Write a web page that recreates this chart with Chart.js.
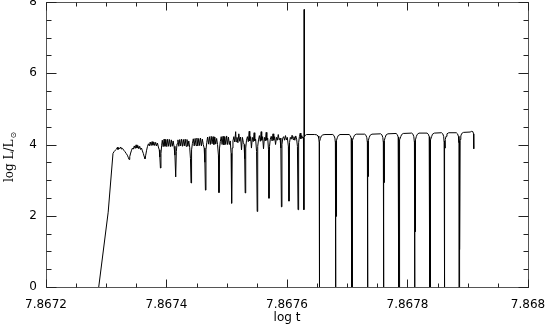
<!DOCTYPE html>
<html><head><meta charset="utf-8">
<script src="https://cdn.jsdelivr.net/npm/chart.js@4/dist/chart.umd.min.js"></script>
<style>html,body{margin:0;padding:0;background:#fff;}canvas{display:block;}</style>
</head><body>
<canvas id="c" width="545" height="327"></canvas>
<script>
const logT = [
7.8672875,7.8673032,7.8673112,7.867313,7.867315,7.867317,7.8673185,7.8673195,7.867321,7.8673225,
7.867324,7.8673255,7.867327,7.867329,7.867331,7.867333,7.867335,7.8673365,7.8673378,7.867339,
7.8673405,7.867342,7.8673435,7.867345,7.8673465,7.867348,7.8673495,7.867351,7.8673525,7.867354,
7.8673555,7.867357,7.8673585,7.86736,7.8673615,7.867363,7.8673643,7.8673655,7.867367,7.8673685,
7.86737,7.8673715,7.867373,7.8673745,7.867376,7.8673775,7.867379,7.8673805,7.867382,7.8673835,
7.867385,7.8673865,7.867388,7.867389,7.8673899,7.8673908,7.867392,7.867393,7.8673945,7.867396,
7.8673975,7.867399,7.8674005,7.867402,7.8674035,7.867405,7.8674065,7.867408,7.8674095,7.867411,
7.8674125,7.867414,7.8674153,7.8674163,7.8674175,7.867419,7.8674205,7.867422,7.8674235,7.867425,
7.8674265,7.867428,7.8674295,7.867431,7.8674325,7.867434,7.8674355,7.867437,7.8674385,7.8674398,
7.8674407,7.8674416,7.867443,7.8674445,7.867446,7.8674475,7.867449,7.8674505,7.867452,7.8674535,
7.867455,7.8674565,7.867458,7.8674595,7.867461,7.8674625,7.8674637,7.8674646,7.8674655,7.8674668,
7.8674682,7.8674697,7.8674712,7.8674727,7.8674742,7.8674757,7.8674772,7.8674787,7.8674802,7.8674817,
7.8674832,7.8674847,7.8674862,7.8674871,7.867488,7.8674893,7.8674908,7.8674923,7.8674938,7.8674953,
7.8674968,7.8674983,7.8674998,7.8675013,7.8675028,7.8675043,7.8675058,7.8675072,7.8675081,7.867509,
7.8675103,7.8675118,7.8675133,7.8675148,7.8675156,7.867517,7.8675185,7.86752,7.8675215,7.867523,
7.8675245,7.867526,7.8675275,7.8675288,7.8675298,7.8675306,7.8675315,7.8675328,7.8675343,7.8675358,
7.8675373,7.8675382,7.8675396,7.867541,7.8675425,7.867544,7.8675455,7.8675465,7.867548,7.8675495,
7.8675505,7.8675514,7.8675527,7.8675542,7.8675557,7.8675572,7.867558,7.8675595,7.867561,7.8675625,
7.867564,7.8675655,7.8675665,7.867568,7.8675693,7.8675701,7.867571,7.8675723,7.8675738,7.8675753,
7.8675768,7.867578,7.8675795,7.867581,7.8675825,7.867584,7.8675855,7.867587,7.8675885,7.8675898,
7.8675907,7.8675916,7.867593,7.8675945,7.867596,7.8675975,7.867599,7.8676005,7.8676023,7.8676033,
7.8676042,7.8676055,7.867607,7.8676085,7.86761,7.8676115,7.867613,7.8676145,7.867616,7.8676173,
7.8676183,7.8676193,7.8676206,7.867622,7.867623,7.8676245,7.867626,7.8676273,7.867628,7.8676284,
7.867629,7.8676305,7.8676325,7.867646,7.8676495,7.8676515,7.8676528,7.8676534,7.8676535,7.867654,
7.8676543,7.8676555,7.867657,7.8676595,7.867663,7.867676,7.867678,7.8676795,7.8676803,7.8676804,
7.8676809,7.8676812,7.8676817,7.867682,7.8676824,7.8676835,7.867685,7.867688,7.867703,7.867705,
7.8677065,7.8677073,7.8677074,7.8677079,7.8677082,7.8677085,7.8677088,7.8677092,7.8677105,7.867712,
7.867715,7.867729,7.867731,7.8677325,7.8677334,7.8677335,7.867734,7.8677343,7.8677346,7.8677349,
7.8677353,7.8677365,7.867738,7.867741,7.8677555,7.8677575,7.867759,7.8677599,7.86776,7.8677605,
7.8677608,7.8677611,7.8677614,7.8677618,7.867763,7.8677645,7.8677675,7.867781,7.867783,7.8677845,
7.8677853,7.8677854,7.8677859,7.8677862,7.8677866,7.8677871,7.8677875,7.8677888,7.8677903,7.867793,
7.867807,7.867809,7.8678105,7.8678115,7.8678116,7.8678121,7.8678124,7.8678127,7.867813,7.8678134,
7.8678146,7.867816,7.867819,7.8678325,7.8678345,7.867836,7.8678368,7.8678369,7.8678374,7.8678377,
7.867838,7.8678383,7.8678387,7.86784,7.8678415,7.8678445,7.8678565,7.8678585,7.86786,7.8678608,
7.8678609,7.8678614,7.8678617,7.867862,7.8678623,7.8678627,7.867864,7.8678655,7.8678685,7.867881,
7.867883,7.8678845,7.8678854,7.8678855,7.867886,7.8678863,7.8678866,7.8678869,7.8678873,7.8678885,
7.86789,7.867893,7.867904,7.8679065,7.8679085,7.8679096,7.86791
];
const logL = [
0,2.1,3.75,3.8,3.84,3.87,3.92,3.86,3.91,3.88,
3.93,3.87,3.89,3.84,3.8,3.75,3.7,3.64,3.58,3.66,
3.76,3.84,3.9,3.87,3.96,3.89,3.99,3.9,3.97,3.88,
3.95,3.86,3.9,3.82,3.75,3.66,3.6,3.7,3.84,3.95,
4.02,3.96,4.07,3.97,4.08,3.98,4.07,3.97,4.06,3.96,
4.04,3.93,3.85,3.65,3.34,3.75,3.98,4.12,3.94,4.15,
3.95,4.14,3.94,4.15,3.95,4.14,3.94,4.13,3.95,4.1,
3.95,3.7,3.09,3.8,4.02,4.13,3.95,4.14,3.96,4.15,
3.95,4.14,3.96,4.15,3.95,4.14,3.95,4.1,3.92,3.6,
2.92,3.85,4.03,4.16,3.96,4.17,3.97,4.18,3.96,4.17,
3.97,4.18,3.96,4.15,4.0,3.9,3.5,2.72,3.85,4.05,
4.21,4.01,4.22,4.0,4.23,4.02,4.22,4.0,4.21,4.01,
4.17,4.0,3.7,2.65,3.9,4.08,4.22,4.0,4.23,3.99,
4.22,4.0,4.24,4.0,4.21,4.0,4.1,3.75,2.35,3.9,
4.1,4.22,4.07,4.36,4.08,4.2,4.05,4.3,4.09,4.21,
3.85,4.2,4.06,4.0,3.6,2.64,3.9,4.12,4.22,4.08,
4.37,4.1,4.22,3.9,4.2,4.08,4.33,4.1,4.15,3.8,
2.12,3.95,4.13,4.25,4.09,4.36,4.12,4.22,3.88,4.2,
4.1,4.34,4.12,4.18,3.85,2.49,3.95,4.15,4.23,4.1,
4.3,4.12,4.22,4.0,4.2,4.12,4.28,4.13,4.18,3.9,
2.25,4.0,4.18,4.22,4.12,4.25,4.13,4.2,3.95,2.41,
4.05,4.2,4.15,4.26,4.14,4.22,4.12,4.24,4.15,3.95,
2.17,4.05,4.22,4.32,4.16,4.25,4.18,4.2,2.17,7.79,
4.22,4.26,4.28,4.28,4.27,4.24,4.17,4.05,0,0,
4.08,4.17,4.24,4.27,4.28,4.28,4.25,4.18,4.05,0,
0,4.08,4.1,1.98,4.12,4.19,4.25,4.28,4.28,4.25,
4.18,4.05,0,0,4.08,4.1,2.8,4.12,4.2,4.26,
4.29,4.29,4.26,4.19,4.05,0,0,4.08,4.1,3.1,
4.12,4.2,4.26,4.29,4.3,4.27,4.2,4.05,0,0,
4.08,4.1,2.93,4.12,4.2,4.27,4.3,4.31,4.28,4.21,
4.05,0,0,4.08,4.1,3.5,4.13,4.22,4.28,4.31,
4.32,4.29,4.22,4.05,0,0,4.08,4.1,1.55,4.13,
4.22,4.28,4.32,4.32,4.29,4.22,4.05,0,0,4.08,
4.1,0.85,4.13,4.22,4.29,4.32,4.33,4.3,4.23,4.05,
0,0,4.08,4.1,3.9,4.14,4.23,4.3,4.33,4.33,
4.3,4.23,4.05,0,0,4.08,4.1,1.05,4.14,4.24,
4.31,4.34,4.35,4.37,4.36,4.3,3.88
];
const xTickValues = [7.8672, 7.8674, 7.8676, 7.8678, 7.868];
const xTickLabels = ['7.8672', '7.8674', '7.8676', '7.8678', '7.868'];
const yTickValues = [0, 2, 4, 6, 8];
const yTickLabels = ['0', '2', '4', '6', '8'];
const xTitle = 'log t';
const yTitleMain = 'log L/L';
const yTitleSub = '\u2299';

const points = logT.map((x, i) => ({x: x, y: logL[i]}));

const framePlugin = {
  id: 'frame',
  afterDatasetsDraw(chart) {
    const ctx = chart.ctx, a = chart.chartArea, xs = chart.scales.x, ys = chart.scales.y;
    const L = Math.round(a.left) + 0.5, R = Math.round(a.right) + 0.5;
    const T = Math.round(a.top) + 0.5, B = Math.round(a.bottom) + 0.5;
    ctx.save();
    ctx.lineWidth = 1;
    ctx.strokeStyle = '#555';
    ctx.strokeRect(L, T, R - L, B - T);
    ctx.strokeStyle = '#222';
    ctx.beginPath();
    const xmin = xTickValues[0], xmax = xTickValues[xTickValues.length - 1];
    const xstep = (xTickValues[1] - xTickValues[0]) / 4;
    const nx = Math.round((xmax - xmin) / xstep);
    for (let k = 0; k <= nx; k++) {
      const v = xmin + k * xstep;
      const len = (k % 4 === 0) ? 8 : 4;
      const px = Math.round(xs.getPixelForValue(v)) + 0.5;
      ctx.moveTo(px, B); ctx.lineTo(px, B - len);
      ctx.moveTo(px, T); ctx.lineTo(px, T + len);
    }
    const ymin = yTickValues[0], ymax = yTickValues[yTickValues.length - 1];
    const ystep = (yTickValues[1] - yTickValues[0]) / 4;
    const ny = Math.round((ymax - ymin) / ystep);
    for (let k = 0; k <= ny; k++) {
      const v = ymin + k * ystep;
      const len = (k % 4 === 0) ? 10 : 5;
      const py = Math.round(ys.getPixelForValue(v)) + 0.5;
      ctx.moveTo(L, py); ctx.lineTo(L + len, py);
      ctx.moveTo(R, py); ctx.lineTo(R - len, py);
    }
    ctx.stroke();
    ctx.restore();
  }
};

const yTitlePlugin = {
  id: 'ytitle',
  afterDraw(chart) {
    const ctx = chart.ctx;
    ctx.save();
    ctx.translate(10, 157);
    ctx.rotate(-Math.PI / 2);
    ctx.fillStyle = '#000';
    ctx.textBaseline = 'middle';
    ctx.textAlign = 'left';
    const mainFont = '12px "DejaVu Serif"';
    const subFont = '8px "DejaVu Sans"';
    ctx.font = mainFont;
    const wm = ctx.measureText(yTitleMain).width;
    ctx.font = subFont;
    const ws = ctx.measureText(yTitleSub).width;
    const start = -(wm + ws + 1) / 2;
    ctx.font = mainFont;
    ctx.fillText(yTitleMain, start, 0);
    ctx.font = subFont;
    ctx.fillText(yTitleSub, start + wm + 1, 4);
    ctx.restore();
  }
};

const tickFont = {family: 'DejaVu Sans', size: 12};

new Chart(document.getElementById('c'), {
  type: 'line',
  data: {datasets: [{data: points, borderColor: '#000', borderWidth: 1, pointRadius: 0, fill: false, tension: 0}]},
  options: {
    responsive: false,
    animation: false,
    devicePixelRatio: 1,
    layout: {padding: {top: 2, right: 17, left: 0, bottom: 0}},
    plugins: {legend: {display: false}, tooltip: {enabled: false}},
    scales: {
      x: {
        type: 'linear', min: 7.8672, max: 7.868,
        grid: {display: false, drawTicks: false},
        border: {display: false},
        afterBuildTicks: s => { s.ticks = xTickValues.map(v => ({value: v})); },
        ticks: {autoSkip: false, maxRotation: 0, minRotation: 0, padding: 11, color: '#000', font: tickFont,
          callback: (v, i) => xTickLabels[i]},
        title: {display: true, text: xTitle, color: '#000', font: tickFont, padding: {top: 0, bottom: 2}},
        afterFit: s => { s.height = 40; s.paddingLeft = 0; s.paddingRight = 0; }
      },
      y: {
        type: 'linear', min: 0, max: 8,
        grid: {display: false, drawTicks: false},
        border: {display: false},
        afterBuildTicks: s => { s.ticks = yTickValues.map(v => ({value: v})); },
        ticks: {autoSkip: false, padding: 9, color: '#000', font: tickFont,
          callback: (v, i) => yTickLabels[i]},
        afterFit: s => { s.width = 46; s.paddingTop = 0; s.paddingBottom = 0; }
      }
    }
  },
  plugins: [framePlugin, yTitlePlugin]
});
</script>
</body></html>
